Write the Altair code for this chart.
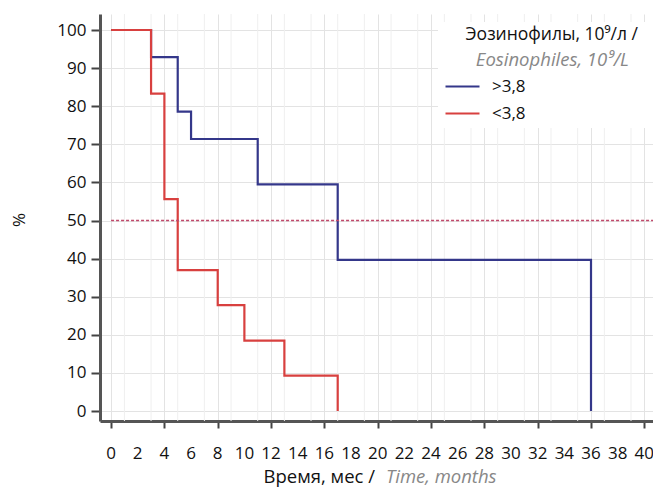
import altair as alt
import pandas as pd

# Kaplan-Meier steps
blue_t = [0, 3, 5, 6, 11, 17, 36]
blue_s = [100, 92.9, 78.6, 71.4, 59.5, 39.7, 0]
red_t = [0, 3, 4, 5, 8, 10, 13, 17]
red_s = [100, 83.3, 55.6, 37.0, 27.8, 18.5, 9.3, 0]
groups = [">3,8", "<3,8"]
colors = ["#34378a", "#d8403f"]
median_level = [50]
x_ticks = list(range(0, 41, 2))
x_minor = list(range(1, 41, 2))
y_ticks = list(range(0, 101, 5))

FONT = "Open Sans"

blue_df = pd.DataFrame({"t": blue_t, "s": blue_s, "g": groups[0]})
red_df = pd.DataFrame({"t": red_t, "s": red_s, "g": groups[1]})

xs = alt.Scale(domain=[-0.83, 40.65], nice=False, zero=False)
ys = alt.Scale(domain=[-2.6, 104.2], nice=False, zero=False)
cs = alt.Scale(domain=groups, range=colors)

xaxis = alt.Axis(
    values=x_ticks, title=None, labels=False,
    tickSize=7, tickWidth=2, tickColor="#444",
    domainColor="#555", domainWidth=3,
    grid=True, gridColor="#e3e3e3", gridWidth=1,
)
yaxis = alt.Axis(
    values=y_ticks, title=None, format="d",
    labelExpr="datum.value % 10 === 0 ? datum.label : ''",
    labelOverlap=False,
    labelFont=FONT, labelFontSize=17, labelColor="#111", labelPadding=5,
    tickSize={"condition": {"test": "datum.value % 10 !== 0", "value": 5}, "value": 9},
    tickWidth=2, tickColor="#444",
    domainColor="#555", domainWidth=3,
    grid=True, gridColor="#e3e3e3", gridWidth=1.2,
    gridOpacity={"condition": {"test": "datum.value % 10 !== 0", "value": 0}, "value": 1},
)

legend = alt.Legend(
    title=None, orient="none", legendX=344, legendY=54,
    symbolType="stroke", symbolSize=1156, symbolStrokeWidth=2.2,
    labelFont=FONT, labelFontSize=17, labelColor="#111", labelOffset=11,
    rowPadding=-8, padding=0)

minor = alt.Chart(pd.DataFrame({"m": x_minor})).mark_rule(
    color="#efefef", strokeWidth=1
).encode(x=alt.X("m:Q", scale=xs, axis=xaxis), y=alt.value(0), y2=alt.value(407))

xlabels = alt.Chart(pd.DataFrame({"v": x_ticks})).mark_text(
    font=FONT, fontSize=17, color="#111", baseline="middle", align="center"
).encode(x=alt.X("v:Q", scale=xs, axis=xaxis), y=alt.value(440), text=alt.Text("v:Q", format="d"))

blue = alt.Chart(blue_df).mark_line(interpolate="step-after", strokeWidth=2.2).encode(
    x=alt.X("t:Q", scale=xs, axis=xaxis),
    y=alt.Y("s:Q", scale=ys, axis=yaxis),
    color=alt.Color("g:N", scale=cs, legend=legend),
)
red = alt.Chart(red_df).mark_line(interpolate="step-after", strokeWidth=2.2).encode(
    x=alt.X("t:Q", scale=xs, axis=xaxis),
    y=alt.Y("s:Q", scale=ys, axis=yaxis),
    color=alt.Color("g:N", scale=cs, legend=legend),
)

med = alt.Chart(pd.DataFrame({"y": median_level, "x0": [0]})).mark_rule(
    color="#c0486a", strokeWidth=1.5, strokeDash=[3, 2]
).encode(x="x0:Q", x2=alt.value(553), y="y:Q")

box = alt.Chart(pd.DataFrame({"a": [0]})).mark_rect(color="white").encode(
    x=alt.value(338), x2=alt.value(553), y=alt.value(8), y2=alt.value(114)
)

def txt(s, x, y, size=17, **kw):
    return alt.Chart(pd.DataFrame({"a": [0]})).mark_text(
        text=s, font=FONT, fontSize=size, baseline="middle", **kw
    ).encode(x=alt.value(x), y=alt.value(y))

leg1 = txt("Эозинофилы, 10⁹/л /", 538, 21, size=17.5, align="right", color="#111")
leg2 = txt("Eosinophiles, 10⁹/L", 529, 46, size=18.5, align="right", color="#888", fontStyle="italic")
xt1 = txt("Время, мес /", 275, 463, size=18.5, align="right", color="#111")
xt2 = txt("Time, months", 286, 463, size=18.5, align="left", color="#888", fontStyle="italic")
yt = txt("%", -80, 206, align="center", color="#111", angle=270)

chart = alt.layer(minor, blue, red, med, box, xlabels, leg1, leg2, xt1, xt2, yt).properties(
    width=553, height=407, autosize="none",
    padding={"left": 92, "top": 6, "right": 0, "bottom": 66},
).configure_view(stroke=None)

chart.save("out.html", embed_options={"renderer": "svg", "actions": False})
